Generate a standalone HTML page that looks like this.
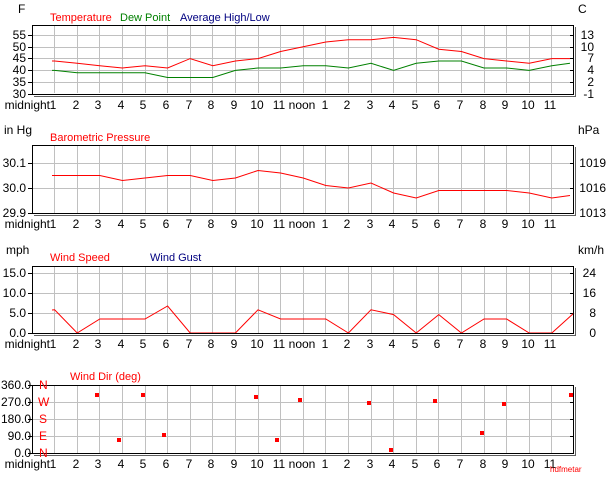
<!DOCTYPE html>
<html><head><meta charset="utf-8"><style>
html,body{margin:0;padding:0;background:#fff}
svg{display:block}
text{font-family:"Liberation Sans",sans-serif;font-size:12px}
.lg{font-size:11px}
</style></head><body>
<svg width="614" height="480" xmlns="http://www.w3.org/2000/svg">
<defs>
<g id="vg" stroke="#c0c0c0" stroke-width="1">
<path d="M54.5 0v68M77.5 0v68M99.5 0v68M122.5 0v68M145.5 0v68M167.5 0v68M190.5 0v68M212.5 0v68M235.5 0v68M258.5 0v68M280.5 0v68M303.5 0v68M325.5 0v68M348.5 0v68M371.5 0v68M393.5 0v68M416.5 0v68M438.5 0v68M461.5 0v68M484.5 0v68M506.5 0v68M529.5 0v68M551.5 0v68"/>
</g>
<g id="hl">
<text x="50" y="0" text-anchor="end">midnight</text>
<text x="53" y="0" text-anchor="middle">1</text><text x="76" y="0" text-anchor="middle">2</text><text x="98" y="0" text-anchor="middle">3</text><text x="121" y="0" text-anchor="middle">4</text><text x="143" y="0" text-anchor="middle">5</text><text x="166" y="0" text-anchor="middle">6</text><text x="189" y="0" text-anchor="middle">7</text><text x="211" y="0" text-anchor="middle">8</text><text x="234" y="0" text-anchor="middle">9</text><text x="257" y="0" text-anchor="middle">10</text><text x="279" y="0" text-anchor="middle">11</text><text x="302" y="0" text-anchor="middle">noon</text><text x="325" y="0" text-anchor="middle">1</text><text x="347" y="0" text-anchor="middle">2</text><text x="370" y="0" text-anchor="middle">3</text><text x="392" y="0" text-anchor="middle">4</text><text x="415" y="0" text-anchor="middle">5</text><text x="437" y="0" text-anchor="middle">6</text><text x="460" y="0" text-anchor="middle">7</text><text x="483" y="0" text-anchor="middle">8</text><text x="505" y="0" text-anchor="middle">9</text><text x="528" y="0" text-anchor="middle">10</text><text x="550" y="0" text-anchor="middle">11</text>
</g>
</defs>

<text x="18" y="13">F</text><text x="578" y="13">C</text>
<text x="50" y="21" fill="#f00" class="lg">Temperature</text>
<text x="120" y="21" fill="#008000" class="lg">Dew Point</text>
<text x="180" y="21" fill="#000080" class="lg">Average High/Low</text>
<use href="#vg" transform="translate(0,25)"/>
<path d="M32 35.5h542M32 47.5h542M32 58.5h542M32 70.5h542M32 82.5h542" stroke="#c0c0c0"/>
<path d="M32 35.5h-4M32 47.5h-4M32 58.5h-4M32 70.5h-4M32 82.5h-4M32 94.5h-4M574 35.5h-4M574 47.5h-4M574 58.5h-4M574 70.5h-4M574 82.5h-4" stroke="#000"/>
<polyline fill="none" stroke="#f00" points="52,61 54.6,61 77.2,63.3 99.8,65.7 122.4,68 145,65.7 167.6,68 190.2,58.6 212.8,65.7 235.4,61 258,58.6 280.6,51.5 303.2,46.8 325.8,42 348.4,39.7 371,39.7 393.6,37.4 416.2,39.7 438.8,49.2 461.4,51.5 484,58.6 506.6,61 529.2,63.3 551.8,58.6 570,58.6"/>
<polyline fill="none" stroke="#008000" points="52,70.4 54.6,70.4 77.2,72.8 99.8,72.8 122.4,72.8 145,72.8 167.6,77.5 190.2,77.5 212.8,77.5 235.4,70.4 258,68 280.6,68 303.2,65.7 325.8,65.7 348.4,68 371,63.3 393.6,70.4 416.2,63.3 438.8,61 461.4,61 484,68 506.6,68 529.2,70.4 551.8,65.7 570,63.3"/>
<rect x="32.5" y="25.5" width="541" height="69" fill="none" stroke="#000"/>
<path d="M575.5 27v69.5H34" stroke="#606060" fill="none"/>
<g text-anchor="end"><text x="26" y="39">55</text><text x="26" y="51">50</text><text x="26" y="62">45</text><text x="26" y="74">40</text><text x="26" y="86">35</text><text x="26" y="98">30</text></g>
<g text-anchor="end"><text x="594" y="39">13</text><text x="594" y="51">10</text><text x="594" y="62">7</text><text x="594" y="74">4</text><text x="594" y="86">2</text><text x="594" y="98">-1</text></g>
<use href="#hl" transform="translate(0,109)"/>

<text x="4" y="134">in Hg</text><text x="578" y="134">hPa</text>
<text x="50" y="141" fill="#f00" class="lg">Barometric Pressure</text>
<use href="#vg" transform="translate(0,145)"/>
<path d="M32 163.5h542M32 188.5h542" stroke="#c0c0c0"/>
<path d="M32 163.5h-4M32 188.5h-4M32 213.5h-4M574 163.5h-4M574 188.5h-4" stroke="#000"/>
<polyline fill="none" stroke="#f00" points="52,175.5 54.6,175.5 77.2,175.5 99.8,175.5 122.4,180.5 145,178 167.6,175.5 190.2,175.5 212.8,180.5 235.4,178 258,170.5 280.6,173 303.2,178 325.8,185.5 348.4,188 371,183 393.6,193 416.2,198 438.8,190.5 461.4,190.5 484,190.5 506.6,190.5 529.2,193 551.8,198 570,195.5"/>
<rect x="32.5" y="145.5" width="541" height="68" fill="none" stroke="#000"/>
<path d="M575.5 147v68.5H34" stroke="#606060" fill="none"/>
<g text-anchor="end"><text x="26" y="167">30.1</text><text x="26" y="192">30.0</text><text x="26" y="217">29.9</text></g>
<g text-anchor="end"><text x="606" y="167">1019</text><text x="606" y="192">1016</text><text x="606" y="217">1013</text></g>
<use href="#hl" transform="translate(0,228)"/>

<text x="6" y="254">mph</text><text x="578" y="254">km/h</text>
<text x="50" y="261" fill="#f00" class="lg">Wind Speed</text>
<text x="150" y="261" fill="#000080" class="lg">Wind Gust</text>
<use href="#vg" transform="translate(0,266)"/>
<path d="M32 273.5h542M32 293.5h542M32 313.5h542" stroke="#c0c0c0"/>
<path d="M32 273.5h-4M32 293.5h-4M32 313.5h-4M32 333.5h-4M574 273.5h-4M574 293.5h-4M574 313.5h-4" stroke="#000"/>
<polyline fill="none" stroke="#f00" points="52,310 54.6,309.8 77.2,333 99.8,319 122.4,319 145,319 167.6,306 190.2,333 212.8,333 235.4,333 258,309.8 280.6,319 303.2,319 325.8,319 348.4,333 371,309.8 393.6,314.6 416.2,333 438.8,314.6 461.4,333 484,319 506.6,319 529.2,333 551.8,333 574,313"/>
<rect x="32.5" y="266.5" width="541" height="67" fill="none" stroke="#000"/>
<path d="M575.5 268v67.5H34" stroke="#606060" fill="none"/>
<g text-anchor="end"><text x="26" y="277">15.0</text><text x="26" y="297">10.0</text><text x="26" y="317">5.0</text><text x="26" y="337">0.0</text></g>
<g text-anchor="end"><text x="596" y="277">24</text><text x="596" y="297">16</text><text x="596" y="317">8</text><text x="596" y="337">0</text></g>
<use href="#hl" transform="translate(0,348)"/>

<text x="70" y="380" fill="#f00" class="lg">Wind Dir (deg)</text>
<use href="#vg" transform="translate(0,385)"/>
<path d="M32 402.5h542M32 419.5h542M32 436.5h542" stroke="#c0c0c0"/>
<path d="M32 385.5h-4M32 402.5h-4M32 419.5h-4M32 436.5h-4M32 453.5h-4M574 402.5h-4M574 419.5h-4M574 436.5h-4" stroke="#000"/>
<rect x="32.5" y="385.5" width="541" height="68" fill="none" stroke="#000"/>
<path d="M575.5 387v68.5H34" stroke="#606060" fill="none"/>
<g fill="#f00">
<rect x="95" y="393" width="4" height="4"/><rect x="117" y="438" width="4" height="4"/><rect x="141" y="393" width="4" height="4"/><rect x="162" y="433" width="4" height="4"/><rect x="254" y="395" width="4" height="4"/><rect x="275" y="438" width="4" height="4"/><rect x="298" y="398" width="4" height="4"/><rect x="367" y="401" width="4" height="4"/><rect x="389" y="448" width="4" height="4"/><rect x="433" y="399" width="4" height="4"/><rect x="480" y="431" width="4" height="4"/><rect x="502" y="402" width="4" height="4"/><rect x="569" y="393" width="4" height="4"/>
</g>
<g text-anchor="end"><text x="31" y="389">360.0</text><text x="31" y="406">270.0</text><text x="31" y="423">180.0</text><text x="31" y="440">90.0</text><text x="31" y="457">0.0</text></g>
<g fill="#f00"><text x="39" y="389">N</text><text x="38" y="406">W</text><text x="39" y="423">S</text><text x="39" y="440">E</text><text x="39" y="457">N</text></g>
<use href="#hl" transform="translate(0,468)"/>
<text x="550" y="472" fill="#f00" style="font-size:8px">hdfmetar</text>
</svg>
</body></html>
